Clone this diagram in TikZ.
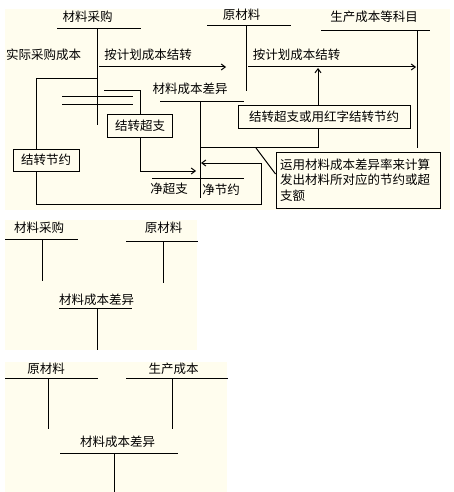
\documentclass[tikz,border=0pt]{standalone}
\usepackage{fontspec}
\setmainfont{Noto Sans CJK SC}
\usetikzlibrary{arrows.meta}
\definecolor{cream}{HTML}{FFFDEE}
\begin{document}
\begin{tikzpicture}[x=1pt,y=-1pt,
  every node/.style={font=\fontsize{12.5}{15.5}\selectfont,inner sep=0pt},
  ln/.style={line width=1pt,line cap=rect},
  arr/.style={line width=1pt,-{Straight Barb[length=4pt,width=6pt]}},
  lbl/.style={},
  tbox/.style={draw,line width=1pt,fill=cream,minimum height=22pt},
  panel/.style={fill=cream,draw=none}]
\useasboundingbox (0,0) rectangle (454,492);
% panels
\fill[cream] (5,9) rectangle (450,210);
\fill[cream] (5,220) rectangle (197,350);
\fill[cream] (5,362) rectangle (227,492);

% ---------- top panel ----------
\node[lbl] (caigou) at (87.5,17) {材料采购};
\node[lbl] (yuan) at (241.5,15) {原材料};
\node[lbl] (shengchan) at (374,17) {生产成本等科目};
\node[lbl] (shiji) at (43.5,55) {实际采购成本};
\node[lbl] (anji1) at (148,55) {按计划成本结转};
\node[lbl] (anji2) at (296.5,55) {按计划成本结转};
\node[lbl] (chayi) at (190,89) {材料成本差异};
\node[lbl] (jingchao) at (169,189) {净超支};
\node[lbl] (jingjie) at (221,190) {净节约};

% T accounts
\draw[ln] (57,29) -- (140,29);
\draw[ln] (97,29) -- (97,124);
\draw[ln] (207,26) -- (290,26);
\draw[ln] (246,26) -- (246,91);
\draw[ln] (321,31) -- (429,31);
\draw[ln] (417,31) -- (417,147);
\draw[ln] (160,102) -- (243,102);
\draw[ln] (200,102) -- (200,197);
\draw[ln] (62,97) -- (132,97);
\draw[ln] (62,105) -- (132,105);
\draw[ln] (152,178) -- (243,178);

% boxes
\node[tbox,minimum width=65pt] (chaozhi) at (140,126) {结转超支};
\node[tbox,minimum width=66pt] (jieyue) at (46,160) {结转节约};
\node[tbox,minimum width=172pt] (hongzi) at (324,117) {结转超支或用红字结转节约};
\node[draw,line width=1pt,fill=cream,minimum width=164pt,minimum height=56pt,
      text width=156pt,align=left,font=\fontsize{12.5}{15.5}\selectfont]
      (callout) at (358,180) {运用材料成本差异率来计算\\发出材料所对应的节约或超\\支额};

% coordinates
\coordinate (a1s) at (99,67);
\coordinate (a1e) at (226,67);
\coordinate (a2s) at (248,67);
\coordinate (a2e) at (416,67);
\coordinate (c1) at (104,91);
\coordinate (c2) at (196,171);
\coordinate (ja) at (97,79);
\coordinate (jb) at (36,79);
\coordinate (jc) at (36,204);
\coordinate (jd) at (261,204);
\coordinate (je) at (261,163);
\coordinate (jf) at (201,163);
\coordinate (hup) at (318,68);
\coordinate (hdn) at (318,147);
\coordinate (hl) at (200,147);
\coordinate (dg) at (256,148);

% arrows
\draw[arr] (a1s) -- (a1e);
\draw[arr] (a2s) -- (a2e);
\draw[ln] (c1) -| (chaozhi.north);
\draw[arr] (chaozhi.south) |- (c2);
\draw[ln] (ja) -- (jb) -- (jb |- jieyue.north);
\draw[arr] (jb |- jieyue.south) -- (jc) -- (jd) -- (je) -- (jf);
\draw[arr] (hongzi.north -| hup) -- (hup);
\draw[ln] (hongzi.south -| hdn) -- (hdn) -- (hl);
\draw[line width=1pt] (dg) -- (callout.west |- 0,174);

% ---------- second panel ----------
\node[lbl] (p2a) at (39,228) {材料采购};
\node[lbl] (p2b) at (163.5,228) {原材料};
\node[lbl] (p2c) at (96.5,300) {材料成本差异};
\draw[ln] (5,239) -- (77,239);
\draw[ln] (42,239) -- (42,280);
\draw[ln] (126,241) -- (197,241);
\draw[ln] (163,241) -- (163,282);
\draw[ln] (59,308) -- (131,308);
\draw[ln] (97,308) -- (97,349);

% ---------- third panel ----------
\node[lbl] (p3a) at (46,369) {原材料};
\node[lbl] (p3b) at (173.5,369) {生产成本};
\node[lbl] (p3c) at (117.5,442) {材料成本差异};
\draw[ln] (5,378) -- (97,378);
\draw[ln] (48,378) -- (48,428);
\draw[ln] (126,378) -- (227,378);
\draw[ln] (172,378) -- (172,428);
\draw[ln] (60,453) -- (177,453);
\draw[ln] (114,453) -- (114,491);
\end{tikzpicture}
\end{document}
